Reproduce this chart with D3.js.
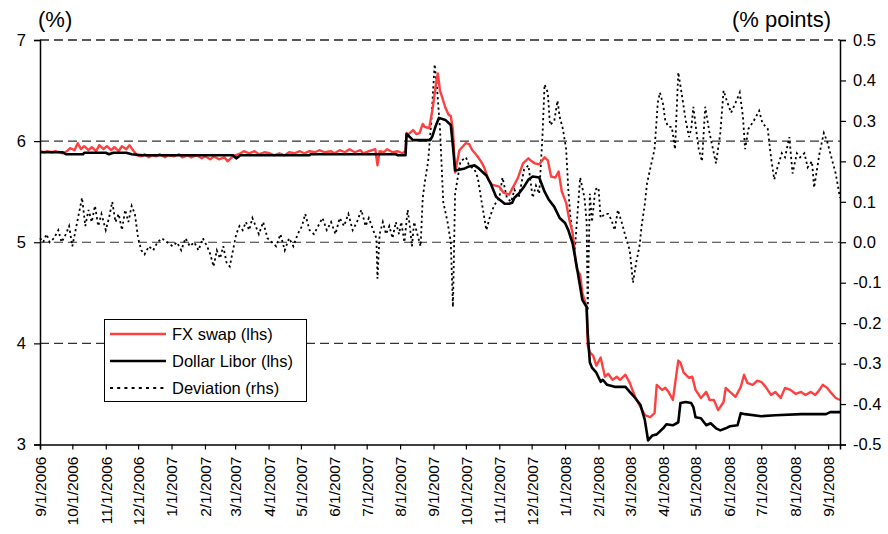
<!DOCTYPE html>
<html>
<head>
<meta charset="utf-8">
<script src="https://cdn.jsdelivr.net/npm/d3@7/dist/d3.min.js"></script>
<style>
  html, body { margin: 0; padding: 0; background: #fff; }
  svg { display: block; font-family: Arial, "Liberation Sans", sans-serif; }
</style>
</head>
<body>
<svg id="chart" width="888" height="534"></svg>
<script>
// ---------- DATA ----------
const monthTicks = ["2006-09-01","2006-10-01","2006-11-01","2006-12-01","2007-01-01","2007-02-01","2007-03-01","2007-04-01","2007-05-01","2007-06-01","2007-07-01","2007-08-01","2007-09-01","2007-10-01","2007-11-01","2007-12-01","2008-01-01","2008-02-01","2008-03-01","2008-04-01","2008-05-01","2008-06-01","2008-07-01","2008-08-01","2008-09-01"];
const leftTicks = [3, 4, 5, 6, 7];
const rightTicks = [-0.5, -0.4, -0.3, -0.2, -0.1, 0.0, 0.1, 0.2, 0.3, 0.4, 0.5];
const seriesNames = ["FX swap (lhs)", "Dollar Libor (lhs)", "Deviation (rhs)"];

const fxSwap = [
["2006-09-01",5.90],["2006-09-05",5.89],["2006-09-08",5.90],["2006-09-12",5.89],["2006-09-15",5.90],["2006-09-19",5.89],["2006-09-22",5.88],["2006-09-26",5.90],["2006-09-29",5.93],
["2006-10-03",5.91],["2006-10-06",5.98],["2006-10-09",5.92],["2006-10-12",5.95],["2006-10-16",5.91],["2006-10-19",5.94],["2006-10-23",5.90],["2006-10-26",5.96],["2006-10-30",5.92],
["2006-11-02",5.95],["2006-11-06",5.91],["2006-11-09",5.94],["2006-11-13",5.90],["2006-11-16",5.95],["2006-11-20",5.92],["2006-11-23",5.96],["2006-11-27",5.90],["2006-11-30",5.86],
["2006-12-04",5.85],["2006-12-07",5.87],["2006-12-11",5.84],["2006-12-14",5.86],["2006-12-18",5.85],["2006-12-21",5.87],["2006-12-26",5.84],["2006-12-29",5.86],
["2007-01-03",5.85],["2007-01-08",5.87],["2007-01-11",5.84],["2007-01-16",5.86],["2007-01-19",5.84],["2007-01-24",5.86],["2007-01-29",5.83],
["2007-02-01",5.85],["2007-02-06",5.82],["2007-02-09",5.85],["2007-02-14",5.82],["2007-02-19",5.84],["2007-02-22",5.80],["2007-02-26",5.84],
["2007-03-01",5.86],["2007-03-06",5.88],["2007-03-09",5.90],["2007-03-14",5.88],["2007-03-19",5.90],["2007-03-23",5.87],["2007-03-28",5.89],
["2007-04-02",5.88],["2007-04-06",5.86],["2007-04-11",5.88],["2007-04-16",5.86],["2007-04-20",5.89],["2007-04-25",5.88],["2007-04-30",5.90],
["2007-05-04",5.88],["2007-05-09",5.90],["2007-05-14",5.89],["2007-05-18",5.91],["2007-05-23",5.89],["2007-05-29",5.90],
["2007-06-01",5.88],["2007-06-06",5.91],["2007-06-11",5.89],["2007-06-15",5.92],["2007-06-20",5.89],["2007-06-25",5.91],["2007-06-28",5.88],
["2007-07-03",5.90],["2007-07-09",5.92],["2007-07-11",5.76],["2007-07-13",5.90],["2007-07-17",5.89],["2007-07-20",5.92],["2007-07-25",5.89],["2007-07-30",5.90],
["2007-08-03",5.88],["2007-08-06",5.90],["2007-08-07",6.08],["2007-08-09",6.07],["2007-08-13",6.11],["2007-08-16",6.07],["2007-08-19",6.08],["2007-08-22",6.17],["2007-08-24",6.14],["2007-08-28",6.13],["2007-08-31",6.31],
["2007-09-04",6.62],["2007-09-05",6.67],["2007-09-07",6.50],["2007-09-10",6.40],["2007-09-12",6.33],["2007-09-15",6.26],["2007-09-17",6.25],["2007-09-19",6.11],["2007-09-21",5.69],["2007-09-25",5.91],
["2007-10-01",5.98],["2007-10-04",5.97],["2007-10-07",5.91],["2007-10-11",5.86],["2007-10-15",5.80],["2007-10-18",5.74],["2007-10-22",5.62],["2007-10-25",5.57],
["2007-11-01",5.55],["2007-11-05",5.49],["2007-11-10",5.47],["2007-11-14",5.55],["2007-11-18",5.63],["2007-11-23",5.78],["2007-11-28",5.83],
["2007-12-01",5.80],["2007-12-04",5.78],["2007-12-08",5.77],["2007-12-13",5.84],["2007-12-16",5.81],["2007-12-19",5.65],["2007-12-23",5.64],["2007-12-26",5.70],["2007-12-29",5.50],
["2008-01-02",5.39],["2008-01-05",5.22],["2008-01-08",5.09],["2008-01-11",4.80],["2008-01-12",4.73],["2008-01-15",4.68],["2008-01-17",4.50],["2008-01-21",4.36],["2008-01-22",3.98],["2008-01-24",3.91],["2008-01-27",3.88],["2008-01-30",3.78],
["2008-02-03",3.86],["2008-02-07",3.67],["2008-02-10",3.70],["2008-02-14",3.64],["2008-02-18",3.67],["2008-02-21",3.64],["2008-02-26",3.69],
["2008-03-01",3.61],["2008-03-06",3.47],["2008-03-11",3.37],["2008-03-15",3.29],["2008-03-20",3.27],["2008-03-24",3.31],["2008-03-26",3.59],["2008-03-31",3.54],
["2008-04-03",3.56],["2008-04-06",3.52],["2008-04-10",3.44],["2008-04-15",3.83],["2008-04-17",3.81],["2008-04-20",3.71],["2008-04-25",3.66],["2008-04-28",3.67],
["2008-05-01",3.54],["2008-05-06",3.46],["2008-05-11",3.52],["2008-05-14",3.44],["2008-05-18",3.44],["2008-05-22",3.34],["2008-05-27",3.42],["2008-05-29",3.56],
["2008-06-02",3.52],["2008-06-07",3.47],["2008-06-12",3.57],["2008-06-15",3.69],["2008-06-18",3.61],["2008-06-23",3.59],["2008-06-27",3.63],
["2008-07-01",3.62],["2008-07-05",3.57],["2008-07-10",3.49],["2008-07-14",3.52],["2008-07-19",3.46],["2008-07-23",3.56],["2008-07-28",3.54],
["2008-08-02",3.50],["2008-08-07",3.52],["2008-08-11",3.49],["2008-08-16",3.52],["2008-08-20",3.49],["2008-08-24",3.54],["2008-08-27",3.59],["2008-08-31",3.56],
["2008-09-03",3.52],["2008-09-08",3.46],["2008-09-12",3.44]
];

const dollarLibor = [
["2006-09-01",5.89],["2006-09-22",5.89],["2006-09-25",5.87],["2006-10-11",5.87],["2006-10-12",5.885],["2006-11-01",5.885],["2006-11-04",5.87],["2006-11-08",5.885],["2006-11-20",5.885],["2006-11-25",5.87],["2006-12-05",5.86],
["2007-02-27",5.86],["2007-03-02",5.83],["2007-03-06",5.86],["2007-05-09",5.86],["2007-05-10",5.87],["2007-07-28",5.87],["2007-07-30",5.86],["2007-08-06",5.86],
["2007-08-07",6.07],["2007-08-13",6.01],["2007-08-29",6.01],["2007-08-31",6.05],["2007-09-03",6.15],["2007-09-06",6.23],["2007-09-12",6.21],["2007-09-17",6.16],["2007-09-19",5.95],["2007-09-21",5.71],["2007-09-30",5.73],
["2007-10-04",5.75],["2007-10-09",5.76],["2007-10-13",5.73],["2007-10-20",5.66],["2007-10-24",5.58],["2007-10-29",5.45],
["2007-11-06",5.38],["2007-11-10",5.38],["2007-11-13",5.39],["2007-11-15",5.44],["2007-11-19",5.48],["2007-11-24",5.55],["2007-11-28",5.62],
["2007-12-02",5.65],["2007-12-08",5.64],["2007-12-13",5.50],["2007-12-17",5.42],["2007-12-22",5.35],["2007-12-27",5.24],
["2008-01-01",5.19],["2008-01-04",5.12],["2008-01-08",4.99],["2008-01-12",4.75],["2008-01-15",4.56],["2008-01-17",4.43],["2008-01-21",4.36],["2008-01-22",4.10],["2008-01-24",3.81],["2008-01-26",3.76],["2008-01-30",3.71],
["2008-02-03",3.62],["2008-02-05",3.64],["2008-02-09",3.59],["2008-02-16",3.57],["2008-02-26",3.57],
["2008-03-01",3.52],["2008-03-06",3.46],["2008-03-11",3.39],["2008-03-15",3.24],["2008-03-18",3.04],["2008-03-22",3.09],["2008-03-26",3.10],
["2008-04-01",3.16],["2008-04-04",3.20],["2008-04-10",3.19],["2008-04-15",3.22],["2008-04-17",3.41],["2008-04-22",3.42],["2008-04-27",3.41],["2008-04-29",3.37],
["2008-05-01",3.27],["2008-05-06",3.26],["2008-05-11",3.19],["2008-05-15",3.21],["2008-05-20",3.16],["2008-05-24",3.14],["2008-05-29",3.16],
["2008-06-02",3.18],["2008-06-09",3.19],["2008-06-12",3.31],["2008-06-16",3.30],["2008-07-01",3.28],["2008-07-14",3.29],["2008-08-07",3.30],["2008-08-30",3.30],["2008-09-03",3.32],["2008-09-12",3.32]
];

const deviation = [
["2006-09-01",0.01],["2006-09-04",0.00],["2006-09-07",0.02],["2006-09-10",0.00],["2006-09-14",0.01],["2006-09-18",0.03],["2006-09-21",0.00],["2006-09-25",0.02],["2006-09-28",0.04],
["2006-10-01",-0.01],["2006-10-04",0.03],["2006-10-07",0.07],["2006-10-10",0.11],["2006-10-13",0.04],["2006-10-16",0.08],["2006-10-19",0.05],["2006-10-22",0.09],["2006-10-25",0.04],["2006-10-28",0.07],
["2006-11-01",0.03],["2006-11-04",0.06],["2006-11-07",0.10],["2006-11-10",0.05],["2006-11-13",0.07],["2006-11-16",0.03],["2006-11-19",0.08],["2006-11-22",0.05],["2006-11-25",0.09],["2006-11-28",0.07],
["2006-12-01",0.01],["2006-12-04",-0.02],["2006-12-07",-0.03],["2006-12-11",-0.01],["2006-12-15",-0.02],["2006-12-19",0.00],["2006-12-23",0.01],["2006-12-28",0.00],
["2007-01-02",-0.01],["2007-01-06",0.00],["2007-01-10",-0.02],["2007-01-14",0.01],["2007-01-18",-0.01],["2007-01-22",0.00],["2007-01-26",-0.02],["2007-01-30",0.01],
["2007-02-03",-0.01],["2007-02-06",-0.03],["2007-02-09",-0.06],["2007-02-12",-0.02],["2007-02-15",-0.04],["2007-02-18",-0.01],["2007-02-21",-0.05],["2007-02-24",-0.06],["2007-02-27",-0.02],
["2007-03-02",0.02],["2007-03-05",0.04],["2007-03-08",0.03],["2007-03-11",0.05],["2007-03-14",0.03],["2007-03-17",0.06],["2007-03-20",0.04],["2007-03-23",0.02],["2007-03-27",0.05],["2007-03-31",0.01],
["2007-04-04",0.00],["2007-04-08",-0.01],["2007-04-12",0.02],["2007-04-16",-0.02],["2007-04-20",0.01],["2007-04-24",-0.01],["2007-04-28",0.02],
["2007-05-02",0.04],["2007-05-05",0.07],["2007-05-09",0.03],["2007-05-13",0.02],["2007-05-17",0.04],["2007-05-21",0.06],["2007-05-25",0.03],["2007-05-29",0.05],
["2007-06-02",0.02],["2007-06-06",0.06],["2007-06-10",0.04],["2007-06-14",0.07],["2007-06-18",0.03],["2007-06-22",0.05],["2007-06-26",0.08],["2007-06-30",0.04],
["2007-07-03",0.06],["2007-07-07",0.03],["2007-07-10",0.01],["2007-07-11",-0.09],["2007-07-13",0.02],["2007-07-16",0.05],["2007-07-19",0.02],["2007-07-22",0.04],["2007-07-25",0.01],["2007-07-28",0.05],["2007-07-31",0.02],
["2007-08-02",0.05],["2007-08-05",0.00],["2007-08-08",0.08],["2007-08-10",0.04],["2007-08-12",-0.01],["2007-08-14",0.05],["2007-08-17",0.02],["2007-08-20",-0.01],["2007-08-22",0.11],["2007-08-24",0.15],["2007-08-27",0.20],["2007-08-30",0.30],
["2007-09-02",0.44],["2007-09-04",0.39],["2007-09-07",0.28],["2007-09-10",0.10],["2007-09-14",0.05],["2007-09-17",0.00],["2007-09-19",-0.16],["2007-09-21",0.12],["2007-09-26",0.20],
["2007-10-01",0.21],["2007-10-04",0.19],["2007-10-09",0.18],["2007-10-12",0.16],["2007-10-15",0.11],["2007-10-20",0.03],["2007-10-23",0.06],["2007-10-27",0.09],
["2007-11-01",0.11],["2007-11-04",0.16],["2007-11-08",0.11],["2007-11-12",0.10],["2007-11-15",0.13],["2007-11-19",0.11],["2007-11-24",0.18],["2007-11-28",0.19],
["2007-12-02",0.11],["2007-12-05",0.14],["2007-12-08",0.12],["2007-12-11",0.26],["2007-12-13",0.39],["2007-12-16",0.37],["2007-12-18",0.29],["2007-12-22",0.30],["2007-12-25",0.35],["2007-12-27",0.31],["2007-12-30",0.28],
["2008-01-02",0.23],["2008-01-04",0.13],["2008-01-06",0.06],["2008-01-08",0.02],["2008-01-10",-0.02],["2008-01-15",0.16],["2008-01-19",0.11],["2008-01-21",0.05],["2008-01-22",-0.17],["2008-01-24",0.12],["2008-01-26",0.05],["2008-01-29",0.13],
["2008-02-01",0.135],["2008-02-03",0.06],["2008-02-07",0.07],["2008-02-10",0.07],["2008-02-13",0.055],["2008-02-16",0.03],["2008-02-19",0.08],["2008-02-23",0.045],["2008-02-26",0.015],
["2008-03-01",-0.02],["2008-03-04",-0.10],["2008-03-07",-0.05],["2008-03-10",-0.01],["2008-03-12",0.04],["2008-03-15",0.095],["2008-03-17",0.145],["2008-03-19",0.17],["2008-03-24",0.23],["2008-03-27",0.345],["2008-03-29",0.37],
["2008-04-01",0.34],["2008-04-03",0.30],["2008-04-06",0.285],["2008-04-09",0.285],["2008-04-12",0.23],["2008-04-15",0.42],["2008-04-18",0.37],["2008-04-22",0.30],["2008-04-25",0.26],["2008-04-27",0.28],["2008-04-29",0.335],
["2008-05-02",0.27],["2008-05-04",0.23],["2008-05-07",0.20],["2008-05-10",0.335],["2008-05-14",0.27],["2008-05-18",0.22],["2008-05-20",0.195],["2008-05-24",0.27],["2008-05-27",0.375],["2008-05-30",0.35],
["2008-06-03",0.32],["2008-06-08",0.35],["2008-06-11",0.37],["2008-06-14",0.31],["2008-06-16",0.23],["2008-06-19",0.28],["2008-06-24",0.30],["2008-06-29",0.325],
["2008-07-02",0.295],["2008-07-07",0.28],["2008-07-10",0.21],["2008-07-13",0.155],["2008-07-16",0.185],["2008-07-20",0.22],["2008-07-23",0.21],["2008-07-27",0.26],["2008-07-30",0.17],
["2008-08-03",0.22],["2008-08-06",0.21],["2008-08-10",0.22],["2008-08-13",0.185],["2008-08-17",0.20],["2008-08-19",0.135],["2008-08-24",0.22],["2008-08-28",0.27],["2008-08-31",0.25],
["2008-09-04",0.21],["2008-09-08",0.17],["2008-09-12",0.11]
];

// ---------- CHART ----------
const parse = d3.timeParse("%Y-%m-%d");
const fmtTick = d => (d.getMonth() + 1) + "/" + d.getDate() + "/" + d.getFullYear();

const svg = d3.select("#chart");
const L = 40, R = 840, T = 40, B = 444.5;

const x = d3.scaleTime().domain([parse("2006-09-01"), parse("2008-09-12")]).range([L, R]);
const yL = d3.scaleLinear().domain([3, 7]).range([B, T]);
const yR = d3.scaleLinear().domain([-0.5, 0.5]).range([B, T]);

// gridlines (dashed) at left ticks above 3
svg.append("g").selectAll("line").data(leftTicks.filter(v => v > 3)).join("line")
  .attr("x1", L).attr("x2", R)
  .attr("y1", d => yL(d)).attr("y2", d => yL(d))
  .attr("stroke", d => d === 7 ? "#222" : "#333")
  .attr("stroke-width", d => d === 7 ? 1.6 : 1.1)
  .attr("stroke-dasharray", "9,5");

// lines
const lineL = d3.line().x(d => x(parse(d[0]))).y(d => yL(d[1]));
const lineR = d3.line().x(d => x(parse(d[0]))).y(d => yR(d[1]));

svg.append("path").datum(deviation).attr("d", lineR)
  .attr("fill", "none").attr("stroke", "#000").attr("stroke-width", 1.8)
  .attr("stroke-dasharray", "2.2,3");

svg.append("path").datum(fxSwap).attr("d", lineL)
  .attr("fill", "none").attr("stroke", "#ff4040").attr("stroke-width", 2.4)
  .attr("stroke-linejoin", "round");

svg.append("path").datum(dollarLibor).attr("d", lineL)
  .attr("fill", "none").attr("stroke", "#000").attr("stroke-width", 2.6)
  .attr("stroke-linejoin", "round");

// axes
const axL = svg.append("g").attr("transform", `translate(${L},0)`)
  .call(d3.axisLeft(yL).tickValues(leftTicks).tickFormat(d3.format("d")).tickSize(6).tickPadding(8));
const axR = svg.append("g").attr("transform", `translate(${R},0)`)
  .call(d3.axisRight(yR).tickValues(rightTicks).tickFormat(d3.format(".1f")).tickSize(6).tickPadding(7));
const axB = svg.append("g").attr("transform", `translate(0,${B})`)
  .call(d3.axisBottom(x).tickValues(monthTicks.map(parse)).tickFormat(fmtTick).tickSize(5));

[axL, axR, axB].forEach(a => {
  a.select(".domain").attr("stroke", "#000").attr("stroke-width", 1.5);
  a.selectAll(".tick line").attr("stroke", "#000").attr("stroke-width", 1.2);
  a.selectAll("text").attr("fill", "#000").style("font-family", "Arial, 'Liberation Sans', sans-serif");
});
axL.selectAll("text").style("font-size", "16.5px");
axR.selectAll("text").style("font-size", "16.5px");
axR.selectAll("text").text(d => d3.format(".1f")(d).replace("−", "-"));
axB.selectAll("text").style("font-size", "15.5px")
  .attr("transform", "rotate(-90)")
  .attr("text-anchor", "end")
  .attr("x", -12).attr("y", 0).attr("dy", "0.35em");

// axis titles
svg.append("text").attr("x", 38).attr("y", 27).text("(%)")
  .style("font-size", "22px").attr("fill", "#000");
svg.append("text").attr("x", 831).attr("y", 27).attr("text-anchor", "end").text("(% points)")
  .style("font-size", "22px").attr("fill", "#000");

// legend
const lg = svg.append("g");
lg.append("rect").attr("x", 104.5).attr("y", 319.5).attr("width", 202).attr("height", 82)
  .attr("fill", "#fff").attr("stroke", "#000").attr("stroke-width", 1);
const legStyles = [
  {stroke: "#ff4040", width: 2.6, dash: null},
  {stroke: "#000", width: 2.6, dash: null},
  {stroke: "#000", width: 1.8, dash: "3,4.2"}
];
seriesNames.forEach((name, i) => {
  const cy = 334 + i * 27;
  const s = legStyles[i];
  const ln = lg.append("line").attr("x1", 110).attr("x2", 166).attr("y1", cy).attr("y2", cy)
    .attr("stroke", s.stroke).attr("stroke-width", s.width);
  if (s.dash) ln.attr("stroke-dasharray", s.dash);
  lg.append("text").attr("x", 172).attr("y", cy).attr("dy", "0.36em").text(name)
    .style("font-size", "16.5px").attr("fill", "#000");
});
</script>
</body>
</html>
